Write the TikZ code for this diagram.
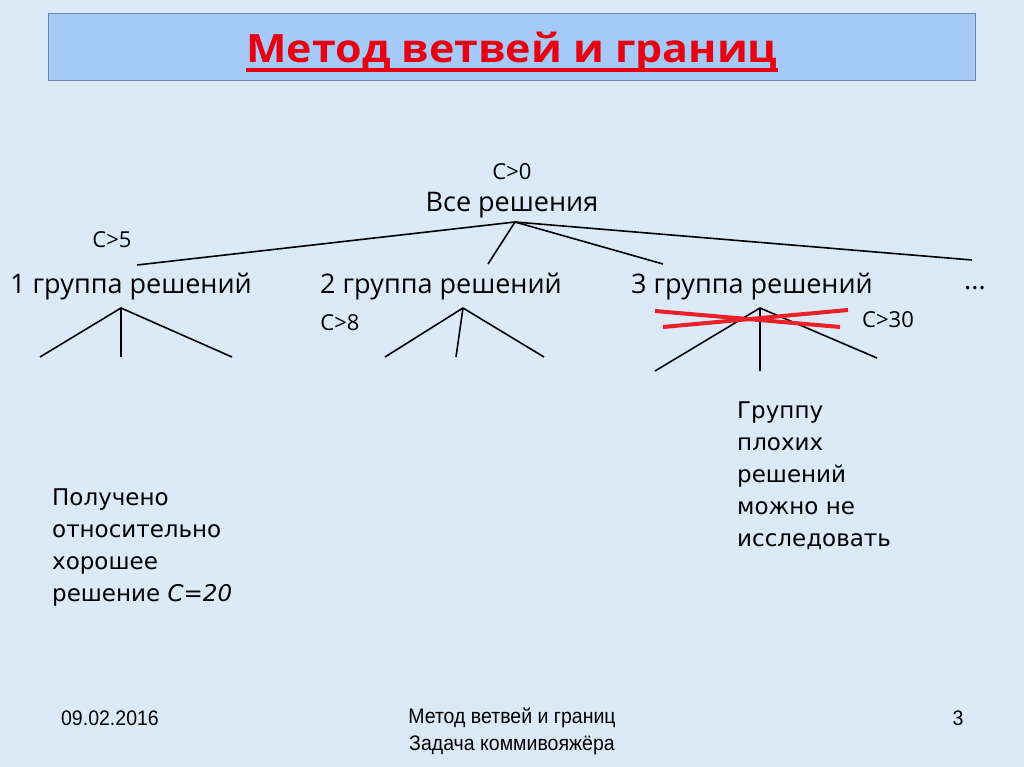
\documentclass[tikz,border=0pt]{standalone}
\usepackage{fontspec}
\setmainfont{DejaVu Sans}
\newfontfamily\treefont{Open Sans}
\newfontfamily\notefont{DejaVu Sans}
\newfontfamily\titlefont[FakeStretch=1.1]{Open Sans}
\newfontfamily\footfont[FakeStretch=0.93]{Liberation Sans}
\usetikzlibrary{positioning}

\definecolor{slidebg}{RGB}{220,233,246}
\definecolor{titlefill}{RGB}{166,202,247}
\definecolor{titleframe}{RGB}{110,130,165}
\definecolor{titlered}{RGB}{230,0,18}
\definecolor{crossred}{RGB}{236,32,40}

\begin{document}
\begin{tikzpicture}[
  x=1pt, y=-1pt,
  lbl/.style={font=\treefont\fontsize{27}{30}\selectfont, inner sep=0pt},
  cond/.style={font=\treefont\fontsize{22}{26}\selectfont, inner sep=0pt},
  note/.style={font=\notefont\fontsize{23}{32}\selectfont, align=left,
               anchor=north west, inner sep=0pt},
  foot/.style={font=\footfont\fontsize{21}{27}\selectfont, align=center,
               inner sep=0pt},
  branch/.style={line width=1.6pt},
  cross/.style={crossred, line width=4pt}
]
  \fill[slidebg] (0,0) rectangle (1024,767);
  \useasboundingbox (0,0) rectangle (1024,767);

  % title bar
  \node[draw=titleframe, fill=titlefill, anchor=north west, inner sep=0pt,
        minimum width=927pt, minimum height=67pt] (titlebox) at (48,13) {};
  \node[font=\titlefont\bfseries\fontsize{39}{44}\selectfont, text=titlered,
        inner sep=0pt, anchor=base] (title) at (512,63) {Метод ветвей и границ};
  \draw[titlered, line width=3.5pt] ([yshift=-7pt]title.base west)
    -- ([yshift=-7pt]title.base east);

  % root
  \node[cond] (c0) at (512,172) {C>0};
  \node[lbl] (root) at (512,205) {Все решения};
  \coordinate (top) at (515,222);

  % first level
  \node[lbl] (g1) at (131,287) {1 группа решений};
  \node[lbl] (g2) at (441,287) {2 группа решений};
  \node[lbl] (g3) at (752,287) {3 группа решений};
  \node[lbl] (more) at (975,288) {...};
  \node[cond] (c5) at (112,240) {C>5};
  \node[cond] (c8) at (340,323) {C>8};
  \node[cond] (c30) at (888,320) {C>30};

  \coordinate (e1) at (137,265);
  \coordinate (e2) at (488,264);
  \coordinate (e3) at (663,264);
  \coordinate (e4) at (972,260);
  \foreach \e in {e1,e2,e3,e4}
    \draw[branch] (top) -- (\e);

  % subtrees
  \coordinate (a1) at (121,308);
  \coordinate (a2) at (463,308);
  \coordinate (a3) at (760,308);
  \coordinate (s1l) at (40,357);  \coordinate (s1m) at (121,357); \coordinate (s1r) at (232,357);
  \coordinate (s2l) at (385,357); \coordinate (s2m) at (456,357); \coordinate (s2r) at (544,357);
  \coordinate (s3l) at (655,371); \coordinate (s3m) at (760,371); \coordinate (s3r) at (877,358);
  \foreach \t in {1,2,3}
    \draw[branch] (s\t l) -- (a\t) -- (s\t r) (a\t) -- (s\t m);

  % crossed out
  \coordinate (x1) at (655,311); \coordinate (x2) at (840,327);
  \coordinate (x3) at (663,327); \coordinate (x4) at (848,310);
  \draw[cross] (x1) -- (x2);
  \draw[cross] (x3) -- (x4);

  % notes
  \node[note] (bad) at (737,402) {Группу\\плохих\\решений\\можно не\\исследовать};
  \node[note] (good) at (52,489) {Получено\\относительно\\хорошее\\решение \textit{C=20}};

  % footer
  \node[foot] (date) at (110,718) {09.02.2016};
  \node[foot] (ftitle) at (512,731) {Метод ветвей и границ\\Задача коммивояжёра};
  \node[foot] (page) at (958,718) {3};
\end{tikzpicture}
\end{document}
